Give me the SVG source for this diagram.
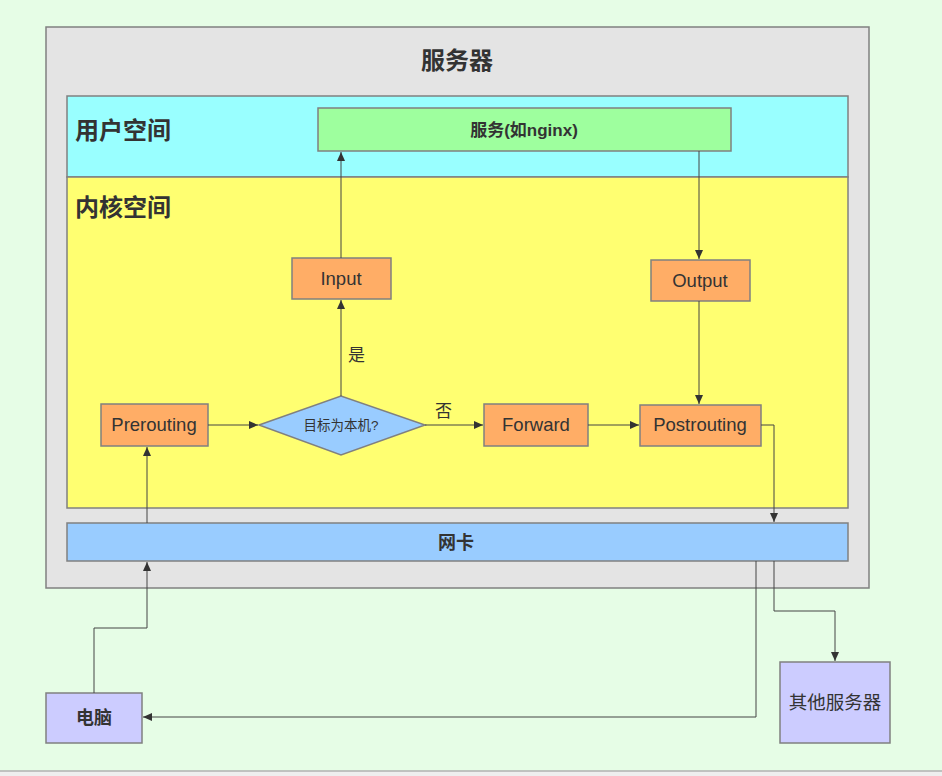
<svg xmlns="http://www.w3.org/2000/svg" width="942" height="776" viewBox="0 0 942 776">
<style>
text{font-family:"Liberation Sans","Noto Sans CJK SC",sans-serif;fill:#333}
.b{font-weight:bold}
.n{stroke:#808080;stroke-width:1.5}
.c{fill:none;stroke:#444;stroke-width:1}
.m{text-anchor:middle}
.o{font-size:18.5px}
</style>
<defs>
<marker id="a" markerWidth="10" markerHeight="10" refX="9" refY="5" orient="auto" markerUnits="userSpaceOnUse">
<path d="M0,1 L9,5 L0,9 z" fill="#333"/>
</marker>
</defs>
<rect x="0" y="0" width="942" height="776" fill="#e6fde6"/>
<rect x="0" y="771" width="942" height="5" fill="#eeeeee"/>
<line x1="0" y1="771" x2="942" y2="771" stroke="#b0b0b0" stroke-width="1.5"/>
<g id="server">
<rect class="n" x="46" y="27" width="823" height="561" fill="#e4e4e4"/>
<text class="b m" x="457" y="69" font-size="24">服务器</text>
</g>
<g id="userspace">
<rect class="n" x="67" y="96" width="781" height="81" fill="#99ffff"/>
<text class="b" x="75" y="139" font-size="24">用户空间</text>
</g>
<g id="kernelspace">
<rect class="n" x="67" y="177" width="781" height="331" fill="#ffff71"/>
<text class="b" x="75" y="216" font-size="24">内核空间</text>
</g>
<g id="service">
<rect class="n" x="318" y="108" width="413" height="43" fill="#9eff9e"/>
<text class="b m" x="524" y="136" font-size="17">服务(如nginx)</text>
</g>
<g id="input">
<rect class="n" x="292" y="258" width="99" height="41" fill="#ffad66"/>
<text class="m o" x="341" y="285">Input</text>
</g>
<g id="output">
<rect class="n" x="651" y="260" width="99" height="41" fill="#ffad66"/>
<text class="m o" x="700" y="287">Output</text>
</g>
<g id="prerouting">
<rect class="n" x="101" y="404" width="107" height="42" fill="#ffad66"/>
<text class="m o" x="154" y="431">Prerouting</text>
</g>
<g id="decision">
<polygon class="n" points="259,425 341,396 425,425 341,455" fill="#99ccff"/>
<text class="m" x="341" y="430" font-size="13.5">目标为本机?</text>
</g>
<g id="forward">
<rect class="n" x="484" y="404" width="104" height="42" fill="#ffad66"/>
<text class="m o" x="536" y="431">Forward</text>
</g>
<g id="postrouting">
<rect class="n" x="640" y="405" width="121" height="41" fill="#ffad66"/>
<text class="m o" x="700" y="431">Postrouting</text>
</g>
<g id="nic">
<rect class="n" x="67" y="523" width="781" height="38" fill="#99ccff"/>
<text class="b m" x="456" y="549" font-size="18">网卡</text>
</g>
<g id="pc">
<rect class="n" x="46" y="693" width="96" height="50" fill="#ccccff"/>
<text class="b m" x="94" y="724" font-size="18">电脑</text>
</g>
<g id="otherservers">
<rect class="n" x="780" y="662" width="110" height="81" fill="#ccccff"/>
<text class="m" x="835" y="709" font-size="18.5">其他服务器</text>
</g>
<g id="connectors">
<path class="c" d="M341,258 V152" marker-end="url(#a)"/>
<path class="c" d="M699,151 V259" marker-end="url(#a)"/>
<path class="c" d="M699,301 V404" marker-end="url(#a)"/>
<path class="c" d="M341,396 V300" marker-end="url(#a)"/>
<path class="c" d="M208,425 H258" marker-end="url(#a)"/>
<path class="c" d="M425,425 H483" marker-end="url(#a)"/>
<path class="c" d="M588,425 H639" marker-end="url(#a)"/>
<path class="c" d="M761,425 H774 V522" marker-end="url(#a)"/>
<path class="c" d="M147,523 V447" marker-end="url(#a)"/>
<path class="c" d="M94,693 V628 H147 V562" marker-end="url(#a)"/>
<path class="c" d="M774,561 V611 H835 V661" marker-end="url(#a)"/>
<path class="c" d="M756,561 V717 H143" marker-end="url(#a)"/>
<text x="348" y="361" font-size="17">是</text>
<text x="435" y="417" font-size="17">否</text>
</g>
</svg>
